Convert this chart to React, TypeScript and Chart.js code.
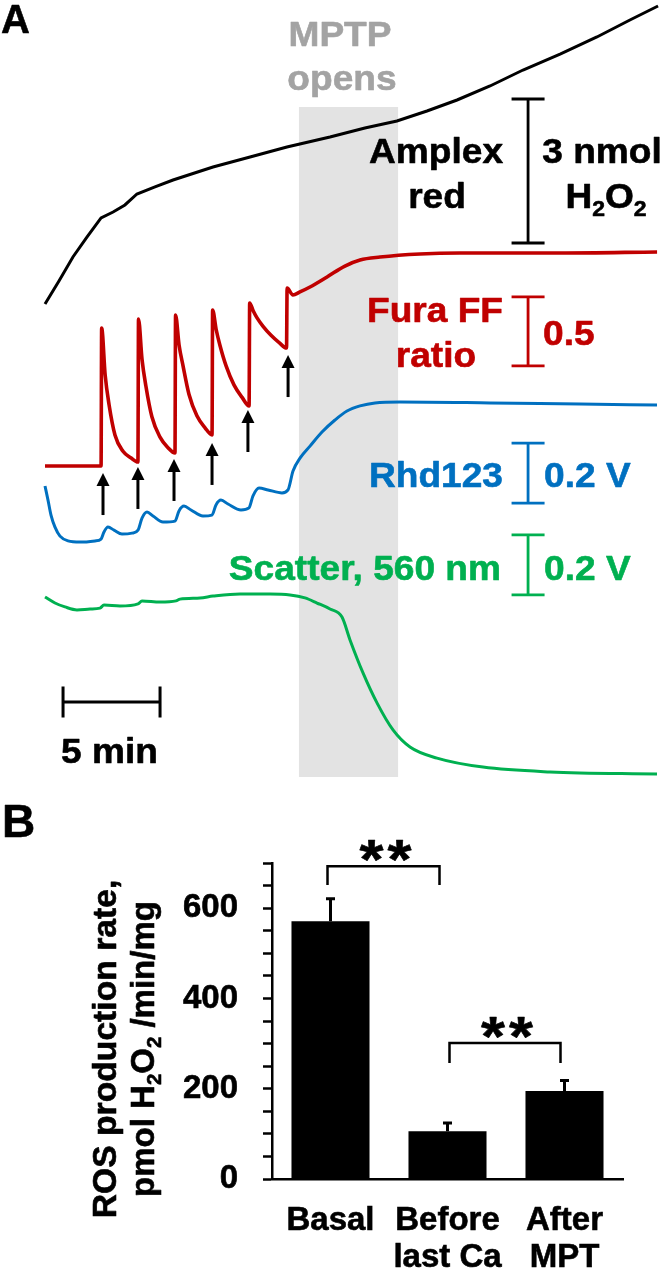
import React, { useEffect, useRef } from "react";
import { Chart, registerables } from "chart.js";

Chart.register(...registerables);

const FONT = '"Liberation Sans", Arial, Helvetica, sans-serif';
const RED = "#c00000";
const BLUE = "#0070c0";
const GREEN = "#00b050";
const GRAY_TEXT = "#a3a3a3";
const SHADE = "#e3e3e3";

// ---------------- Panel A data (time in min) ----------------
const amplexTime = [0, 0.72, 1.44, 2.17, 2.89, 3.51, 4.12, 4.74, 5.67, 6.6, 8.66, 10.57, 12.47, 14.69, 16.49, 18.14, 19.69, 21.24, 22.94, 24.64, 26.55, 28.45, 30.15, 31.6];
const amplexNmol = [0, 0.479, 0.979, 1.396, 1.792, 1.917, 2.063, 2.292, 2.438, 2.583, 2.854, 3.063, 3.271, 3.479, 3.667, 3.813, 4.021, 4.25, 4.542, 4.875, 5.208, 5.563, 5.917, 6.208];

const furaTime = [0, 2.89, 2.92, 3.1, 3.3, 3.61, 4.02, 4.44, 4.79, 4.82, 5.0, 5.2, 5.51, 5.92, 6.34, 6.7, 6.73, 6.91, 7.11, 7.42, 7.83, 8.25, 8.61, 8.64, 8.82, 9.02, 9.33, 9.74, 10.16, 10.52, 10.55, 10.73, 10.93, 11.24, 11.65, 12.07, 12.45, 12.48, 12.78, 13.14, 13.66, 14.54, 15.46, 16.24, 17.27, 19.33, 21.39, 26.55, 31.55];
const furaRatio = [0.4, 0.4, 1.4, 1.06, 0.846, 0.623, 0.507, 0.458, 0.429, 1.465, 1.174, 0.98, 0.757, 0.611, 0.533, 0.494, 1.494, 1.277, 1.129, 0.92, 0.764, 0.677, 0.625, 1.53, 1.391, 1.273, 1.127, 0.988, 0.897, 0.835, 1.581, 1.525, 1.473, 1.412, 1.347, 1.294, 1.255, 1.69, 1.639, 1.661, 1.697, 1.77, 1.849, 1.893, 1.914, 1.936, 1.943, 1.943, 1.951];

const rhdTime = [0, 0.155, 0.309, 0.515, 0.773, 1.186, 1.804, 2.577, 2.887, 3.041, 3.247, 3.557, 3.969, 4.485, 4.794, 5.0, 5.258, 5.567, 6.082, 6.701, 6.907, 7.165, 7.526, 8.144, 8.608, 8.814, 9.072, 9.433, 10.103, 10.515, 10.722, 11.031, 11.495, 12.216, 12.526, 12.784, 13.144, 13.66, 14.278, 14.948, 15.567, 16.237, 17.01, 18.299, 22.938, 27.577, 31.546];
const rhdVolt = [0.48, 0.433, 0.383, 0.343, 0.313, 0.297, 0.293, 0.297, 0.303, 0.327, 0.343, 0.333, 0.32, 0.323, 0.333, 0.373, 0.393, 0.38, 0.36, 0.363, 0.397, 0.413, 0.4, 0.38, 0.383, 0.417, 0.433, 0.42, 0.4, 0.407, 0.447, 0.473, 0.467, 0.457, 0.467, 0.53, 0.573, 0.613, 0.66, 0.7, 0.73, 0.747, 0.757, 0.76, 0.757, 0.753, 0.75];

const scatterTime = [0, 0.515, 1.031, 1.649, 2.32, 2.835, 3.041, 3.866, 4.794, 5.0, 5.928, 6.753, 6.959, 7.99, 8.66, 10.052, 11.598, 12.629, 13.402, 14.021, 14.691, 15.309, 15.722, 16.392, 17.113, 17.938, 18.814, 20.206, 22.577, 26.031, 31.546];
const scatterVolt = [1.01, 0.99, 0.977, 0.967, 0.97, 0.973, 0.983, 0.98, 0.987, 0.997, 0.993, 0.997, 1.003, 1.007, 1.013, 1.02, 1.02, 1.017, 1.007, 0.99, 0.97, 0.943, 0.867, 0.757, 0.657, 0.567, 0.51, 0.473, 0.443, 0.427, 0.42];

const caAdditionTime = [2.99, 4.79, 6.65, 8.61, 10.46, 12.53];
const caArrowTipRatio = [0.349, 0.393, 0.451, 0.567, 0.806, 1.204];
const mptpWindow = [13.09, 18.2];

const scaleBarSize = [3, 0.5, 0.2, 0.2]; // nmol H2O2, ratio, V, V
const timeBarMinutes = 5;

// ---------------- Panel B data ----------------
const rosLabels: any[] = ["Basal", ["Before", "last Ca"], ["After", "MPT"]];
const rosRate = [571, 106, 195];
const rosSem = [50, 18, 23];
const rosTickLabels = [0, 200, 400, 600];
const sigPairs = [[0, 1], [1, 2]];

// ---------------- layout / style ----------------
const X_RANGE = [-2.3196, 31.907];
const Y_RANGE: Record<string, number[]> = {
  yAmp: [-10.125, 6.3333],
  yFura: [-1.9478, 3.7768],
  yRhd: [-0.5333, 2.1],
  yScat: [0.3667, 3.0],
};
const scaleBarAxis = ["yAmp", "yFura", "yRhd", "yScat"];
const scaleBarBase = [1.271, 1.125, 0.423, 1.017];
const scaleBarColor = ["#000", RED, BLUE, GREEN];
const SCALE_BAR_T = 24.9;
const TIME_BAR_START = 0.93;
const TIME_BAR_Y = 702;
const SHADE_TOP = 107;
const SHADE_BOTTOM = 777;
const ARROW_LEN = 42;
const TEXT_STROKE = 0.6;

type Seg = [string, boolean?];
function drawRich(ctx: any, segs: Seg[], x: number, y: number, o: { size: number; color: string; align?: string; sx?: number; rot?: number }) {
  const main = `bold ${o.size}px ${FONT}`;
  const sub = `bold ${o.size * 0.62}px ${FONT}`;
  ctx.save();
  ctx.translate(x, y);
  if (o.rot) ctx.rotate(o.rot);
  ctx.scale(o.sx ?? 1, 1);
  ctx.fillStyle = o.color;
  ctx.strokeStyle = o.color;
  ctx.lineWidth = TEXT_STROKE;
  ctx.lineJoin = "round";
  ctx.textBaseline = "alphabetic";
  ctx.textAlign = "left";
  let w = 0;
  const widths = segs.map(([t, s]) => {
    ctx.font = s ? sub : main;
    const m = ctx.measureText(t).width;
    w += m;
    return m;
  });
  let cx = o.align === "center" ? -w / 2 : o.align === "right" ? -w : 0;
  segs.forEach(([t, s], i) => {
    ctx.font = s ? sub : main;
    const dy = s ? o.size * 0.22 : 0;
    ctx.fillText(t, cx, dy);
    ctx.strokeText(t, cx, dy);
    cx += widths[i];
  });
  ctx.restore();
}

const TA = { size: 35, sx: 1.06 };
const labelsA: any[] = [
  { segs: [["MPTP"]], x: 340, y: 46, color: GRAY_TEXT, align: "center" },
  { segs: [["opens"]], x: 342, y: 90, color: GRAY_TEXT, align: "center" },
  { segs: [["Amplex"]], x: 436, y: 163, color: "#000", align: "center" },
  { segs: [["red"]], x: 437, y: 208, color: "#000", align: "center" },
  { segs: [["3 nmol"]], x: 602, y: 163, color: "#000", align: "center" },
  { segs: [["H"], ["2", true], ["O"], ["2", true]], x: 606, y: 208, color: "#000", align: "center" },
  { segs: [["Fura FF"]], x: 435, y: 322, color: RED, align: "center" },
  { segs: [["ratio"]], x: 436, y: 367, color: RED, align: "center" },
  { segs: [["0.5"]], x: 543, y: 345, color: RED, align: "left" },
  { segs: [["Rhd123"]], x: 503, y: 487, color: BLUE, align: "right" },
  { segs: [["0.2 V"]], x: 544, y: 487, color: BLUE, align: "left" },
  { segs: [["Scatter, 560 nm"]], x: 501, y: 580, color: GREEN, align: "right" },
  { segs: [["0.2 V"]], x: 544, y: 580, color: GREEN, align: "left" },
  { segs: [["5 min"]], x: 61, y: 763, color: "#000", align: "left" },
];

const panelAPlugin = {
  id: "panelA",
  beforeDatasetsDraw(chart: any) {
    const { ctx } = chart;
    const xs = chart.scales.x;
    const x0 = xs.getPixelForValue(mptpWindow[0]);
    const x1 = xs.getPixelForValue(mptpWindow[1]);
    ctx.save();
    ctx.fillStyle = SHADE;
    ctx.fillRect(x0, SHADE_TOP, x1 - x0, SHADE_BOTTOM - SHADE_TOP);
    ctx.restore();
  },
  afterDatasetsDraw(chart: any) {
    const { ctx } = chart;
    const xs = chart.scales.x;
    const yF = chart.scales.yFura;
    ctx.save();
    // Ca addition arrows
    ctx.fillStyle = "#000";
    ctx.strokeStyle = "#000";
    ctx.lineWidth = 3;
    caAdditionTime.forEach((t, i) => {
      const x = xs.getPixelForValue(t);
      const tip = yF.getPixelForValue(caArrowTipRatio[i]);
      ctx.beginPath();
      ctx.moveTo(x, tip + 10);
      ctx.lineTo(x, tip + ARROW_LEN);
      ctx.stroke();
      ctx.beginPath();
      ctx.moveTo(x, tip);
      ctx.lineTo(x - 6.5, tip + 13);
      ctx.lineTo(x + 6.5, tip + 13);
      ctx.closePath();
      ctx.fill();
    });
    // vertical scale bars
    const bx = xs.getPixelForValue(SCALE_BAR_T);
    ctx.lineWidth = 2.8;
    scaleBarAxis.forEach((id, i) => {
      const s = chart.scales[id];
      const y0 = s.getPixelForValue(scaleBarBase[i]);
      const y1 = s.getPixelForValue(scaleBarBase[i] + scaleBarSize[i]);
      ctx.strokeStyle = scaleBarColor[i];
      ctx.beginPath();
      ctx.moveTo(bx, y0);
      ctx.lineTo(bx, y1);
      ctx.moveTo(bx - 16.5, y0);
      ctx.lineTo(bx + 16.5, y0);
      ctx.moveTo(bx - 16.5, y1);
      ctx.lineTo(bx + 16.5, y1);
      ctx.stroke();
    });
    // time bar
    const tx0 = xs.getPixelForValue(TIME_BAR_START);
    const tx1 = xs.getPixelForValue(TIME_BAR_START + timeBarMinutes);
    ctx.strokeStyle = "#000";
    ctx.lineWidth = 3;
    ctx.beginPath();
    ctx.moveTo(tx0, TIME_BAR_Y);
    ctx.lineTo(tx1, TIME_BAR_Y);
    ctx.moveTo(tx0, TIME_BAR_Y - 15.5);
    ctx.lineTo(tx0, TIME_BAR_Y + 15.5);
    ctx.moveTo(tx1, TIME_BAR_Y - 15.5);
    ctx.lineTo(tx1, TIME_BAR_Y + 15.5);
    ctx.stroke();
    // texts
    labelsA.forEach((l) => drawRich(ctx, l.segs, l.x, l.y, { size: TA.size, sx: TA.sx, color: l.color, align: l.align }));
    drawRich(ctx, [["A"]], 1, 33, { size: 40, color: "#000", align: "left" });
    ctx.restore();
  },
};

const sigStyle = [
  { top: 693, leg: 42, dx: [-3, -8] },
  { top: 301, leg: 44, dx: [2, -4] },
];

const panelBPlugin = {
  id: "panelB",
  afterDatasetsDraw(chart: any) {
    const { ctx } = chart;
    const meta = chart.getDatasetMeta(0);
    const ys = chart.scales.y;
    ctx.save();
    ctx.strokeStyle = "#000";
    ctx.lineWidth = 3;
    // error bars (upper only)
    rosRate.forEach((v, i) => {
      const x = meta.data[i].x;
      const y0 = ys.getPixelForValue(v);
      const y1 = ys.getPixelForValue(v + rosSem[i]);
      ctx.beginPath();
      ctx.moveTo(x, y0);
      ctx.lineTo(x, y1);
      ctx.moveTo(x - 4.5, y1);
      ctx.lineTo(x + 4.5, y1);
      ctx.stroke();
    });
    // significance brackets
    ctx.lineWidth = 2.5;
    sigPairs.forEach(([a, b], k) => {
      const st = sigStyle[k];
      const xl = meta.data[a].x + st.dx[0];
      const xr = meta.data[b].x + st.dx[1];
      const yt = ys.getPixelForValue(st.top);
      const yl = ys.getPixelForValue(st.top - st.leg);
      ctx.beginPath();
      ctx.moveTo(xl, yl);
      ctx.lineTo(xl, yt);
      ctx.lineTo(xr, yt);
      ctx.lineTo(xr, yl);
      ctx.stroke();
      const mid = (xl + xr) / 2 + 2;
      drawRich(ctx, [["*"]], mid - 14, yt + 12, { size: 56, color: "#000", align: "center", sx: 1.1 });
      drawRich(ctx, [["*"]], mid + 14, yt + 12, { size: 56, color: "#000", align: "center", sx: 1.1 });
    });
    // y-axis title (two lines, rotated)
    drawRich(ctx, [["ROS production rate,"]], 116, 259, { size: 33, color: "#000", align: "center", rot: -Math.PI / 2, sx: 1.02 });
    drawRich(ctx, [["pmol H"], ["2", true], ["O"], ["2", true], [" /min/mg"]], 154, 259, { size: 33, color: "#000", align: "center", rot: -Math.PI / 2 });
    drawRich(ctx, [["B"]], 2, 47, { size: 46, color: "#000", align: "left" });
    ctx.restore();
  },
};

const toPts = (xs: number[], ys: number[]) => xs.map((x, i) => ({ x, y: ys[i] }));

export default function App() {
  const refA = useRef<HTMLCanvasElement>(null);
  const refB = useRef<HTMLCanvasElement>(null);

  useEffect(() => {
    const hidden = (id: string) => ({ type: "linear", display: false, min: Y_RANGE[id][0], max: Y_RANGE[id][1] });
    const chartA = new Chart(refA.current as HTMLCanvasElement, {
      type: "scatter",
      data: {
        datasets: [
          { label: "Amplex red", data: toPts(amplexTime, amplexNmol), yAxisID: "yAmp", borderColor: "#000", borderWidth: 3, showLine: true, pointRadius: 0, tension: 0 },
          { label: "Fura FF ratio", data: toPts(furaTime, furaRatio), yAxisID: "yFura", borderColor: RED, borderWidth: 3.6, showLine: true, pointRadius: 0, cubicInterpolationMode: "monotone" },
          { label: "Rhd123", data: toPts(rhdTime, rhdVolt), yAxisID: "yRhd", borderColor: BLUE, borderWidth: 3, showLine: true, pointRadius: 0, cubicInterpolationMode: "monotone" },
          { label: "Scatter, 560 nm", data: toPts(scatterTime, scatterVolt), yAxisID: "yScat", borderColor: GREEN, borderWidth: 3, showLine: true, pointRadius: 0, cubicInterpolationMode: "monotone" },
        ],
      } as any,
      options: {
        animation: false,
        responsive: false,
        devicePixelRatio: 1,
        events: [],
        layout: { padding: 0 },
        plugins: { legend: { display: false }, tooltip: { enabled: false } },
        scales: {
          x: { type: "linear", display: false, min: X_RANGE[0], max: X_RANGE[1] },
          yAmp: hidden("yAmp"),
          yFura: hidden("yFura"),
          yRhd: hidden("yRhd"),
          yScat: hidden("yScat"),
        } as any,
      },
      plugins: [panelAPlugin],
    });

    const tickFont = { family: FONT, size: 33, weight: "bold", lineHeight: 1.136 } as any;
    const chartB = new Chart(refB.current as HTMLCanvasElement, {
      type: "bar",
      data: {
        labels: rosLabels,
        datasets: [{ data: rosRate, backgroundColor: "#000", borderWidth: 0, barPercentage: 0.667, categoryPercentage: 1 }],
      },
      options: {
        animation: false,
        responsive: false,
        devicePixelRatio: 1,
        events: [],
        layout: { padding: { top: 73, right: 41, left: 0, bottom: 0 } },
        plugins: { legend: { display: false }, tooltip: { enabled: false } },
        scales: {
          x: {
            grid: { display: false, drawTicks: false },
            border: { display: true, color: "#000", width: 2.5 },
            ticks: { color: "#000", font: tickFont, padding: 23, maxRotation: 0, autoSkip: false, textStrokeColor: "#000", textStrokeWidth: TEXT_STROKE },
            afterFit: (s: any) => { s.height = 95; },
          },
          y: {
            min: 0,
            max: 700,
            grid: { display: true, drawOnChartArea: false, drawTicks: true, tickLength: 9, tickWidth: 2.5, tickColor: "#000" },
            border: { display: true, color: "#000", width: 2.5 },
            ticks: {
              stepSize: 50,
              autoSkip: false,
              color: "#000",
              font: tickFont,
              padding: 25,
              textStrokeColor: "#000",
              textStrokeWidth: TEXT_STROKE,
              callback: (v: any) => (rosTickLabels.includes(Number(v)) ? String(v) : ""),
            },
            afterFit: (s: any) => { s.width = 272; },
          },
        } as any,
      },
      plugins: [panelBPlugin],
    });

    return () => {
      chartA.destroy();
      chartB.destroy();
    };
  }, []);

  return (
    <div style={{ position: "absolute", left: 0, top: 0, width: 664, height: 1274, background: "#fff" }}>
      <canvas ref={refA} width={664} height={790} style={{ position: "absolute", left: 0, top: 0, width: 664, height: 790 }} />
      <canvas ref={refB} width={664} height={484} style={{ position: "absolute", left: 0, top: 790, width: 664, height: 484 }} />
    </div>
  );
}
